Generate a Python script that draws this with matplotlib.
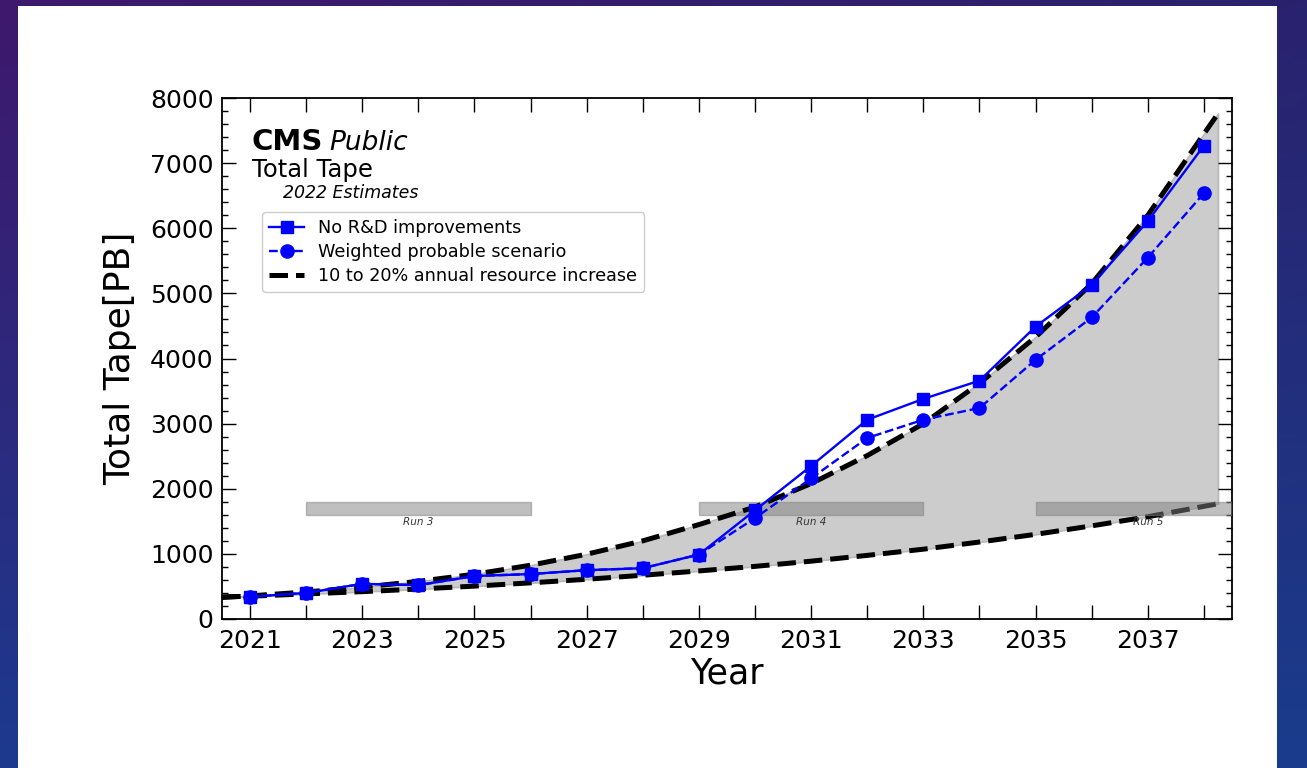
import numpy as np
import matplotlib
matplotlib.use("Agg")
import matplotlib.pyplot as plt
from matplotlib.patches import Rectangle
from matplotlib.ticker import FixedLocator, FixedFormatter, MultipleLocator

# ---- data -------------------------------------------------------------
years = list(range(2021, 2039))
no_rd = [340, 400, 540, 520, 660, 690, 750, 780, 990, 1670,
         2350, 3060, 3380, 3660, 4490, 5130, 6110, 7270]
weighted = [340, 400, 540, 520, 660, 690, 750, 780, 990, 1550,
            2160, 2780, 3060, 3240, 3980, 4630, 5550, 6540]

# resource-growth envelope (10% lower edge, 20% upper edge)
band_x = [2020.5, 2021, 2022, 2023, 2024, 2025, 2026, 2027, 2028, 2029,
          2030, 2031, 2032, 2033, 2034, 2035, 2036, 2037, 2038, 2038.25]
band_low = [340, 350, 385, 420, 460, 505, 555, 610, 672, 738,
            808, 888, 977, 1072, 1182, 1300, 1430, 1570, 1730, 1770]
band_high = [330, 355, 415, 490, 578, 688, 826, 995, 1200, 1450,
             1720, 2080, 2510, 3000, 3620, 4330, 5150, 6200, 7450, 7760]

# LHC run periods
run_names = ["Run 3", "Run 4", "Run 5"]
run_start = [2022, 2029, 2035]
run_end = [2026, 2033, 2039]
run_low, run_high = 1600, 1800
run_label_y = 1490

xtick_years = years
xtick_labels = [str(y) if y % 2 == 1 else "" for y in years]

# ---- figure -------------------------------------------------------------
W, H = 1307, 768
fig = plt.figure(figsize=(W / 100, H / 100), dpi=100)

# slide background with a white panel
bg = fig.add_axes([0, 0, 1, 1], zorder=-10)
ny, nx = 200, 300
t = np.linspace(0, 1, ny)[:, None]
s = np.linspace(0, 1, nx)[None, :]
top_l = np.array([0x3e, 0x18, 0x6c]) / 255
top_r = np.array([0x2a, 0x22, 0x6e]) / 255
bot_l = np.array([0x1c, 0x3a, 0x8e]) / 255
bot_r = np.array([0x1a, 0x3c, 0x8c]) / 255
grad = ((1 - t)[..., None] * ((1 - s)[..., None] * top_l + s[..., None] * top_r)
        + t[..., None] * ((1 - s)[..., None] * bot_l + s[..., None] * bot_r))
bg.imshow(grad, extent=[0, 1, 0, 1], aspect="auto", origin="upper")
bg.add_patch(Rectangle((18 / W, 0), (1277 - 18) / W, (H - 6) / H,
                       facecolor="white", edgecolor="none"))
bg.set_xlim(0, 1)
bg.set_ylim(0, 1)
bg.axis("off")

ax = fig.add_axes([222 / W, (H - 619) / H, 1010 / W, 521 / H])

ax.fill_between(band_x, band_low, band_high, facecolor="#cccccc",
                edgecolor="#b8b8b8", linewidth=1.2, zorder=1)
ax.plot(band_x, band_low, color="black", linestyle="--", linewidth=3.6, zorder=2)

for name, x0, x1 in zip(run_names, run_start, run_end):
    ax.barh((run_low + run_high) / 2, x1 - x0, left=x0, height=run_high - run_low,
            color=(0.5, 0.5, 0.5), alpha=0.5, edgecolor=(0.5, 0.5, 0.5),
            linewidth=1, zorder=3)
    ax.text((x0 + x1) / 2, run_label_y, name, ha="center", va="center",
            fontsize=7.5, style="italic", color="#333333", zorder=3)

ax.plot(band_x, band_high, color="black", linestyle="--", linewidth=3.6, zorder=4,
        label="10 to 20% annual resource increase")
ax.plot(years, weighted, color="blue", linestyle="--", linewidth=1.7, marker="o",
        markersize=9.5, zorder=5, label="Weighted probable scenario")
ax.plot(years, no_rd, color="blue", linestyle="-", linewidth=1.7, marker="s",
        markersize=9, zorder=6, label="No R&D improvements")

ax.set_xlim(2020.5, 2038.5)
ax.set_ylim(0, 8000)
ax.xaxis.set_major_locator(FixedLocator(xtick_years))
ax.xaxis.set_major_formatter(FixedFormatter(xtick_labels))
ax.yaxis.set_major_locator(MultipleLocator(1000))
ax.yaxis.set_minor_locator(MultipleLocator(200))
ax.tick_params(which="both", direction="in", top=True, right=True, width=1)
ax.tick_params(which="major", length=10, labelsize=18)
ax.tick_params(axis="x", which="major", pad=7)
ax.tick_params(axis="y", which="major", pad=6)
ax.tick_params(which="minor", length=4.5)
for sp in ax.spines.values():
    sp.set_linewidth(1.3)

ax.set_xlabel("Year", fontsize=25, labelpad=3)
ax.set_ylabel("Total Tape[PB]", fontsize=26, labelpad=9)

# experiment label block
ax.text(0.0297, 0.900, "CMS", transform=ax.transAxes, fontsize=21,
        fontweight="bold", va="baseline", ha="left")
ax.text(0.106, 0.900, "Public", transform=ax.transAxes, fontsize=19,
        style="italic", va="baseline", ha="left")
ax.text(0.0297, 0.848, "Total Tape", transform=ax.transAxes, fontsize=17.5,
        va="baseline", ha="left")
ax.text(0.0604, 0.808, "2022 Estimates", transform=ax.transAxes, fontsize=12.5,
        style="italic", va="baseline", ha="left")

handles, labels = ax.get_legend_handles_labels()
order = [2, 1, 0]
leg = ax.legend([handles[i] for i in order], [labels[i] for i in order],
                loc="upper left", bbox_to_anchor=(0.0396, 0.781),
                borderaxespad=0, fontsize=12.7, labelspacing=0.33,
                frameon=True, fancybox=True, edgecolor="#cccccc",
                framealpha=1.0)
leg.set_zorder(10)

fig.savefig("out.png", dpi=100)
